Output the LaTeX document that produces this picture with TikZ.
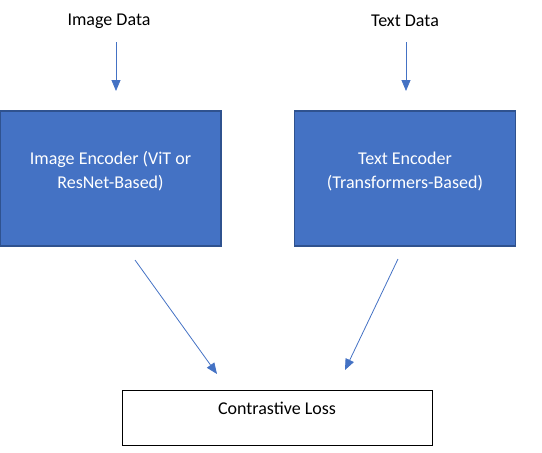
\documentclass[tikz,border=0pt]{standalone}
\usepackage{fontspec}
\setmainfont{Carlito}
\usetikzlibrary{arrows.meta}
\definecolor{encfill}{HTML}{4472C4}
\definecolor{encline}{HTML}{2F528F}
\tikzset{
    encbox/.style={draw=encline, line width=1.5pt, fill=encfill, minimum width=221pt, minimum height=135pt, inner sep=0pt},
    enctxt/.style={text=white, align=center, font=\fontsize{18}{24}\selectfont},
    lossbox/.style={draw=black, line width=1pt, fill=white, minimum width=310pt, minimum height=55pt, inner sep=0pt},
    plain/.style={font=\fontsize{18}{24}\selectfont},
    arr/.style={draw=encfill, line width=0.8pt, -{Triangle[length=11pt,width=9pt]}}
}
\begin{document}
\begin{tikzpicture}[x=1pt, y=-1pt]
    \useasboundingbox (0,0) rectangle (542,453);
    % inputs
    \node[plain] (imgdata) at (109,21) {Image Data};
    \node[plain] (txtdata) at (405,21) {Text Data};
    % encoders
    \node[encbox, label={[enctxt, yshift=7pt]center:{Image Encoder (ViT or\\ResNet-Based)}}] (imgenc) at (110.5,178.5) {};
    \node[encbox, label={[enctxt, yshift=7pt]center:{Text Encoder\\(Transformers-Based)}}] (txtenc) at (405,178.5) {};
    % loss
    \node[lossbox, label={[plain, yshift=9.5pt]center:{Contrastive Loss}}] (loss) at (277,417.5) {};
    % arrow ends
    \coordinate (a1) at (116,42);
    \coordinate (b1) at (116,91);
    \coordinate (a2) at (406,42);
    \coordinate (b2) at (406,91);
    \coordinate (c1) at (135,260);
    \coordinate (d1) at (217,374);
    \coordinate (c2) at (398,259);
    \coordinate (d2) at (345,370);
    \draw[arr] (a1)--(b1);
    \draw[arr] (a2)--(b2);
    \draw[arr] (c1)--(d1);
    \draw[arr] (c2)--(d2);
\end{tikzpicture}
\end{document}
